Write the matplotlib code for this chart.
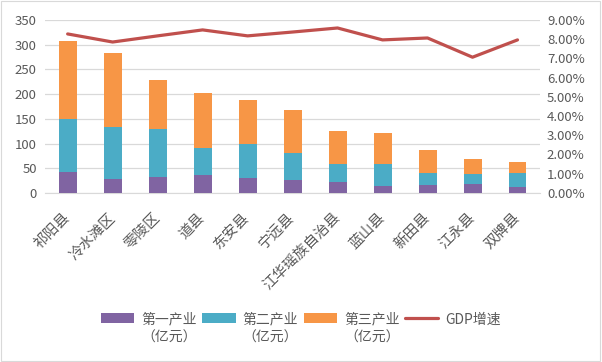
import numpy as np
import matplotlib
matplotlib.use('Agg')
from matplotlib import pyplot as plt
from matplotlib.patches import Rectangle
from matplotlib.ticker import PercentFormatter

plt.rcParams['font.family'] = ['Noto Sans CJK SC', 'DejaVu Sans']

# Data
counties = ['祁阳县', '冷水滩区', '零陵区', '道县', '东安县', '宁远县',
            '江华瑶族自治县', '蓝山县', '新田县', '江永县', '双牌县']
primary = [43, 29, 33, 37, 31, 27, 23, 15, 17, 19, 13]
secondary = [107, 104, 96, 53, 67, 53, 36, 44, 24, 20, 28]
tertiary = [158, 151, 100, 113, 89, 87, 67, 63, 45, 30, 22]
gdp_growth = [8.27, 7.85, 8.17, 8.48, 8.17, 8.37, 8.58, 7.96, 8.06, 7.06, 7.96]

c_primary = '#8064A2'
c_secondary = '#4BACC6'
c_tertiary = '#F79646'
c_line = '#C0504D'
txt = '#595959'

fig = plt.figure(figsize=(6.02, 3.62), dpi=100)
ax = fig.add_axes([0.075, 0.467, 0.822, 0.478])
ax2 = ax.twinx()

x = np.arange(len(counties))
w = 0.4
p = np.array(primary)
s = np.array(secondary)
t = np.array(tertiary)
b1 = ax.bar(x, p, w, color=c_primary, label='第一产业\n（亿元）', zorder=3)
b2 = ax.bar(x, s, w, bottom=p, color=c_secondary, label='第二产业\n（亿元）', zorder=3)
b3 = ax.bar(x, t, w, bottom=p + s, color=c_tertiary, label='第三产业\n（亿元）', zorder=3)
ln, = ax2.plot(x, np.array(gdp_growth) / 100, color=c_line, lw=2.3,
               label='GDP增速', solid_capstyle='round', solid_joinstyle='round')

ax.set_xlim(-0.5, len(counties) - 0.5)
ax.set_ylim(0, 350)
ax.set_yticks(range(0, 351, 50))
ax2.set_ylim(0, 0.09)
ax2.set_yticks(np.arange(0, 0.0901, 0.01))
ax2.yaxis.set_major_formatter(PercentFormatter(1.0, decimals=2))

ax.grid(axis='y', color='#D9D9D9', lw=0.9, zorder=0)
for a in (ax, ax2):
    for sp in a.spines.values():
        sp.set_visible(False)
    a.tick_params(length=0, colors=txt, labelsize=9.5)
ax.spines['bottom'].set_visible(True)
ax.spines['bottom'].set_color('#D9D9D9')
ax.tick_params(axis='y', pad=6)
ax2.tick_params(axis='y', pad=5)

ax.set_xticks(x)
ax.set_xticklabels(counties, rotation=45, ha='right', va='center',
                   rotation_mode='anchor', fontsize=10.5, color=txt)
ax.tick_params(axis='x', pad=16)

leg = fig.legend(handles=[b1, b2, b3, ln], loc='upper center', bbox_to_anchor=(0.5, 0.155),
                 ncol=4, frameon=False, fontsize=10, handlelength=2.4,
                 handleheight=0.72, handletextpad=0.5, columnspacing=0.4,
                 labelcolor=txt, borderpad=0)
for tx in leg.get_texts():
    tx.set_multialignment('center')
    tx.set_linespacing(1.35)
leg._legend_handle_box.align = 'top'
for col in leg._legend_handle_box.get_children():
    col.align = 'top'
    for item in col.get_children():
        item.align = 'top'

fig.patches.append(Rectangle((0.002, 0.003), 0.995, 0.993, transform=fig.transFigure,
                             fill=False, edgecolor='#D9D9D9', lw=0.8))

fig.savefig('out.png', dpi=100)
plt.close(fig)
